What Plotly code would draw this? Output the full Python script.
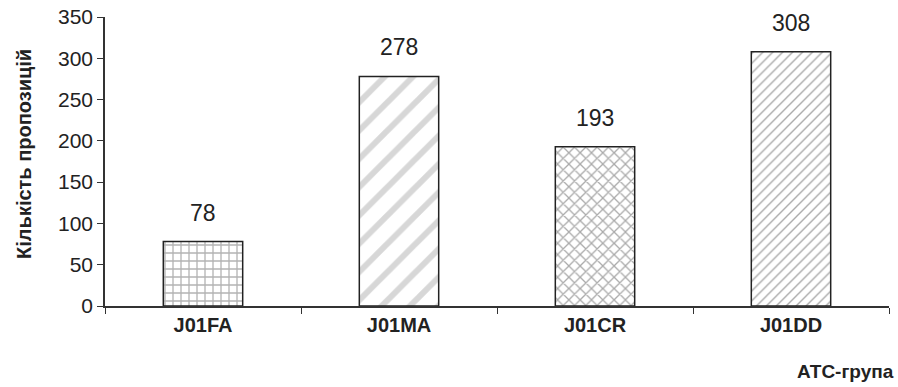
import plotly.graph_objects as go

categories = ["J01FA", "J01MA", "J01CR", "J01DD"]
values = [78, 278, 193, 308]
y_ticks = [0, 50, 100, 150, 200, 250, 300, 350]
pattern_shapes = ["+", "/", "x", "/"]
pattern_sizes = [8, 20, 8, 7]
pattern_solidity = [0.3, 0.3, 0.3, 0.2]
pattern_colors = ["#666666", "#b0b0b0", "#555555", "#555555"]

FONT = "Liberation Sans, Arial, sans-serif"

fig = go.Figure()
fig.add_trace(go.Bar(
    x=categories,
    y=values,
    width=0.405,
    marker=dict(
        color="white",
        line=dict(color="#222222", width=1.5),
        pattern=dict(shape=pattern_shapes, size=pattern_sizes,
                     solidity=pattern_solidity, fgcolor=pattern_colors,
                     bgcolor="white", fillmode="overlay"),
    ),
    showlegend=False,
    hoverinfo="skip",
))

for c, v in zip(categories, values):
    fig.add_annotation(x=c, y=v, text=str(v), showarrow=False,
                       yanchor="bottom", yshift=14,
                       font=dict(family=FONT, size=23, color="#222222"))

fig.add_annotation(xref="paper", yref="paper", x=1.0, y=-0.228,
                   xanchor="right", yanchor="middle", xshift=7,
                   text="<b>АТС-група</b>", showarrow=False,
                   font=dict(family=FONT, size=19, color="#222222"))

fig.add_annotation(xref="paper", yref="paper", x=-0.1027, y=0.528,
                   xanchor="center", yanchor="middle", textangle=-90,
                   text="<b>Кількість пропозицій</b>", showarrow=False,
                   font=dict(family=FONT, size=20, color="#222222"))

fig.update_layout(
    width=898, height=387,
    margin=dict(l=105, r=9, t=17, b=81),
    paper_bgcolor="white", plot_bgcolor="white",
    font=dict(family=FONT, color="#222222"),
    xaxis=dict(
        automargin=False,
        showline=True, linecolor="#333333", linewidth=1.5,
        ticks="outside", ticklen=6, tickcolor="#333333",
        tickson="boundaries",
        tickfont=dict(family=FONT, size=20, color="#222222"),
        tickprefix="<b>", ticksuffix="</b>",
        showgrid=False,
    ),
    yaxis=dict(
        automargin=False,
        range=[0, 350], tickvals=y_ticks,
        showline=True, linecolor="#333333", linewidth=1.5,
        ticks="outside", ticklen=6, tickcolor="#333333",
        tickfont=dict(family=FONT, size=21, color="#222222"),
        showgrid=False, zeroline=False,
    ),
    bargap=0.6,
)

fig.write_html(
    "out.html",
    config={"displayModeBar": False},
    post_script="document.body.style.margin='0';document.body.style.overflow='hidden';",
)
